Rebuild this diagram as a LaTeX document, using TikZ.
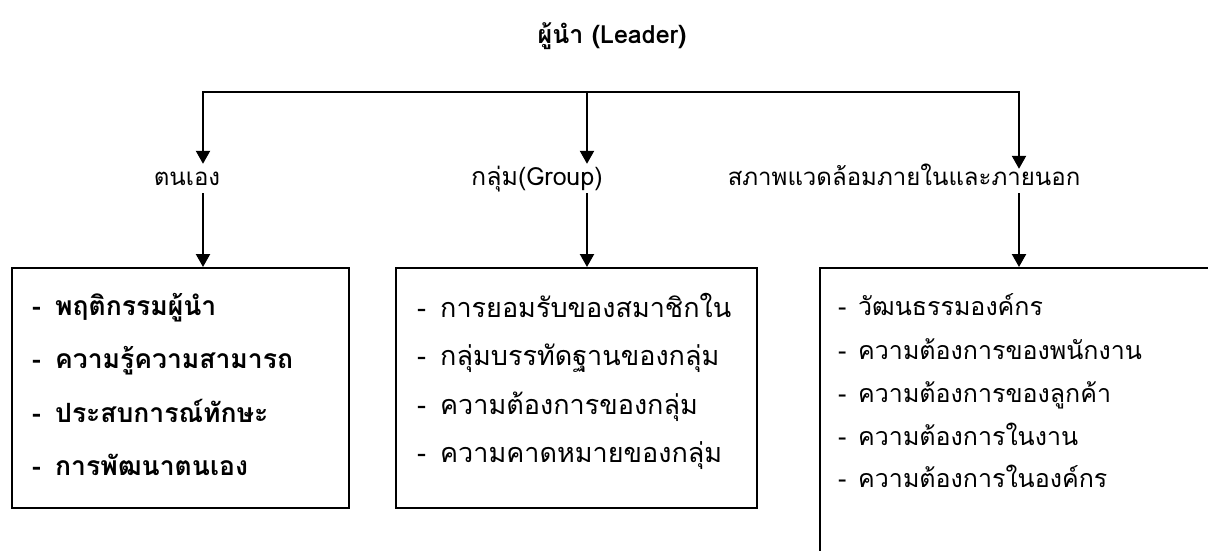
\documentclass[tikz,border=0pt]{standalone}
\usepackage{fontspec}
\setmainfont[Script=Thai]{Loma}
\usetikzlibrary{arrows.meta}
\begin{document}
\begin{tikzpicture}[x=1pt,y=-1pt,
  conn/.style={line width=2.2pt,-{Triangle[length=13pt,width=14pt]}},
  bar/.style={line width=2.2pt,line cap=rect},
  boxst/.style={draw,line width=2.2pt,rectangle,inner sep=0pt,anchor=north west},
  lab/.style={inner sep=0pt,anchor=base,font=\fontsize{24}{28}\selectfont,text height=21pt,text depth=8pt},
  itemA/.style={inner sep=0pt,anchor=base west,font=\bfseries\fontsize{26.5}{30}\selectfont},
  itemB/.style={inner sep=0pt,anchor=base west,font=\fontsize{27}{31}\selectfont},
  itemC/.style={inner sep=0pt,anchor=base west,font=\fontsize{25}{29}\selectfont}
]
\useasboundingbox (0,0) rectangle (1208,550);
\clip (0,0) rectangle (1208,550);
\fill[white] (0,0) rectangle (1208,550);

\node[inner sep=0pt,anchor=base,font=\bfseries\fontsize{25}{29}\selectfont] (title) at (612,43) {ผู้นำ (Leader)};

\coordinate (j1) at (203,92);
\coordinate (j2) at (587,92);
\coordinate (j3) at (1019,92);
\draw[bar] (j1) -- (j3);

\node[lab] (l1) at (187,185) {ตนเอง};
\node[lab,font=\fontsize{25}{29}\selectfont] (l2) at (537,185) {กลุ่ม(Group)};
\node[lab,text height=16pt] (l3) at (904,185) {สภาพแวดล้อมภายในและภายนอก};

\node[boxst,minimum width=337pt,minimum height=240pt] (b1) at (11,267) {};
\node[boxst,minimum width=361pt,minimum height=240pt] (b2) at (395,267) {};
\node[boxst,minimum width=450pt,minimum height=340pt] (b3) at (819,267) {};

\draw[conn] (j1) -- (j1 |- l1.north);
\draw[conn] (j2) -- (j2 |- l2.north);
\draw[conn] (j3) -- (j3 |- l3.north);
\draw[conn] (j1 |- l1.south) -- (j1 |- b1.north);
\draw[conn] (j2 |- l2.south) -- (j2 |- b2.north);
\draw[conn] (j3 |- l3.south) -- (j3 |- b3.north);

\node[itemA] (a1) at (32,315) {\makebox[23pt][l]{-}พฤติกรรมผู้นำ};
\node[itemA] (a2) at (32,368) {\makebox[23pt][l]{-}ความรู้ความสามารถ};
\node[itemA] (a3) at (32,422) {\makebox[23pt][l]{-}ประสบการณ์ทักษะ};
\node[itemA] (a4) at (32,475) {\makebox[23pt][l]{-}การพัฒนาตนเอง};

\node[itemB] (g1) at (417,317) {\makebox[23pt][l]{-}การยอมรับของสมาชิกใน};
\node[itemB] (g2) at (417,365) {\makebox[23pt][l]{-}กลุ่มบรรทัดฐานของกลุ่ม};
\node[itemB] (g3) at (417,414) {\makebox[23pt][l]{-}ความต้องการของกลุ่ม};
\node[itemB] (g4) at (417,462) {\makebox[23pt][l]{-}ความคาดหมายของกลุ่ม};

\node[itemC] (c1) at (838,315) {\makebox[20pt][l]{-}วัฒนธรรมองค์กร};
\node[itemC] (c2) at (838,359) {\makebox[20pt][l]{-}ความต้องการของพนักงาน};
\node[itemC] (c3) at (838,402) {\makebox[20pt][l]{-}ความต้องการของลูกค้า};
\node[itemC] (c4) at (838,445) {\makebox[20pt][l]{-}ความต้องการในงาน};
\node[itemC] (c5) at (838,487) {\makebox[20pt][l]{-}ความต้องการในองค์กร};
\end{tikzpicture}
\end{document}
